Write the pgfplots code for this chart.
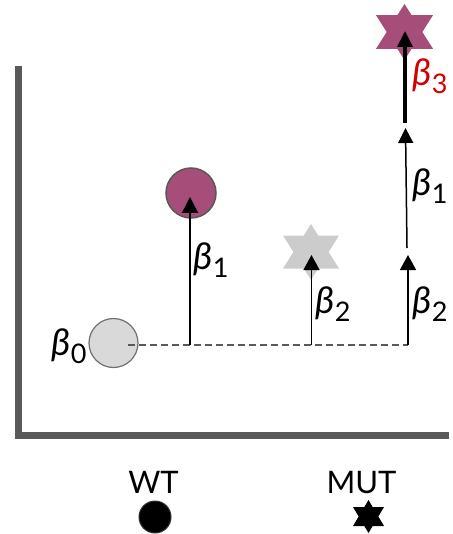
\documentclass[border=0pt]{standalone}
\usepackage{fontspec}
\setmainfont{Lato}
\usepackage{pgfplots}
\pgfplotsset{compat=1.18}
\usetikzlibrary{arrows.meta}
\definecolor{axgray}{HTML}{595959}
\definecolor{plum}{HTML}{A64D79}
\definecolor{lgray}{HTML}{D9D9D9}
\definecolor{sgray}{HTML}{CCCCCC}
\definecolor{cgray}{HTML}{6F6F6F}
\definecolor{bred}{HTML}{D40000}
\newcommand{\B}[2][black]{{\color{#1}\fontsize{37}{37}\selectfont\textit{β}\kern0.5pt\raisebox{-8pt}{\fontsize{27}{27}\selectfont #2}}}
\begin{document}
\begin{tikzpicture}
\begin{axis}[x=1pt, y=1pt, xmin=0, xmax=449, ymin=0, ymax=534, y dir=reverse,
  hide axis, clip=false, clip marker paths=true, scale only axis]
% extent
\addplot[draw=none] coordinates {(0,0) (449,534)};
% frame
\addplot[axgray, line width=7pt] coordinates {(18.5,66) (18.5,435.5) (449,435.5)};
% circles
\addplot[only marks, mark=*, mark size=24.5pt, mark options={fill=lgray, draw=cgray, line width=1.2pt}] coordinates {(113.5,343)};
\addplot[only marks, mark=*, mark size=25pt, mark options={fill=plum, draw=axgray, line width=1.5pt}] coordinates {(191,193)};
% gray star
\addplot[fill=sgray, draw=none] coordinates {(311,224) (283,268.5) (339,268.5)};
\addplot[fill=sgray, draw=none] coordinates {(311,280) (283,235.5) (339,235.5)};
% purple star
\addplot[fill=plum, draw=none] coordinates {(404.5,4) (376,48.8) (433,48.8)};
\addplot[fill=plum, draw=none] coordinates {(404.5,60) (376,15.2) (433,15.2)};
% dashed baseline
\addplot[axgray, line width=1.8pt, dash pattern=on 7pt off 4pt] coordinates {(128,345) (408,345)};
% arrows
\addplot[black, line width=1.5pt, -{Triangle[length=16pt,width=16pt]}] coordinates {(190,345) (190,197)};
\addplot[black, line width=1.5pt, -{Triangle[length=15pt,width=16pt]}] coordinates {(311.5,345) (311.5,255)};
\addplot[black, line width=1.5pt, -{Triangle[length=15pt,width=16pt]}] coordinates {(408,345) (408,255)};
\addplot[black, line width=1.5pt, -{Triangle[length=15pt,width=15pt]}] coordinates {(407,248) (405.5,128)};
\addplot[black, line width=3.5pt, -{Triangle[length=16pt,width=15pt]}] coordinates {(405,123) (405,31)};
% legend symbols
\addplot[only marks, mark=*, mark size=16pt, mark options={fill=black, draw=black!80, line width=1pt}] coordinates {(155,517)};
\addplot[fill=black, draw=none] coordinates {(368.5,500) (353,526) (384,526)};
\addplot[fill=black, draw=none] coordinates {(368.5,533) (353,507) (384,507)};
% labels
\node[anchor=base west, inner sep=0pt] at (axis cs:51,355) {\B{0}};
\node[anchor=base west, inner sep=0pt] at (axis cs:193,269) {\B{1}};
\node[anchor=base west, inner sep=0pt] at (axis cs:315,313) {\B{2}};
\node[anchor=base west, inner sep=0pt] at (axis cs:412,313) {\B{2}};
\node[anchor=base west, inner sep=0pt] at (axis cs:412,196) {\B{1}};
\node[anchor=base west, inner sep=0pt] at (axis cs:412,86) {\B[bred]{3}};
\node[anchor=base, inner sep=0pt] at (axis cs:153.5,493) {\fontsize{31}{31}\selectfont WT};
\node[anchor=base, inner sep=0pt] at (axis cs:361.5,493) {\fontsize{31}{31}\selectfont MUT};
\end{axis}
\end{tikzpicture}
\end{document}
